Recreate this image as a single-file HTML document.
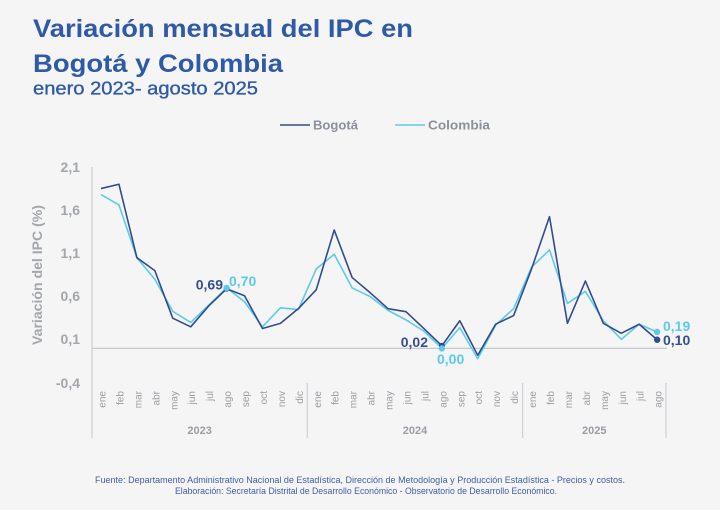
<!DOCTYPE html>
<html>
<head>
<meta charset="utf-8">
<style>
  html,body{margin:0;padding:0;background:#f5f5f6;}
  svg{display:block;}
  text{font-family:"Liberation Sans",Arial,sans-serif;}
</style>
</head>
<body>
<svg width="720" height="510" viewBox="0 0 720 510" xmlns="http://www.w3.org/2000/svg">
  <rect x="0" y="0" width="720" height="510" fill="#f5f5f6"/>

  <!-- Title -->
  <text x="33" y="37" font-size="25" font-weight="bold" fill="#2e5aa6" textLength="380" lengthAdjust="spacingAndGlyphs">Variación mensual del IPC en</text>
  <text x="33" y="72" font-size="25" font-weight="bold" fill="#2e5aa6" textLength="250" lengthAdjust="spacingAndGlyphs">Bogotá y Colombia</text>
  <text x="33" y="94.5" font-size="18" fill="#2e5aa6" stroke="#2e5aa6" stroke-width="0.35" textLength="225" lengthAdjust="spacingAndGlyphs">enero 2023- agosto 2025</text>

  <!-- Legend -->
  <line x1="280" y1="125" x2="310" y2="125" stroke="#324c8e" stroke-width="1.6"/>
  <text x="313" y="129.5" font-size="13" font-weight="bold" fill="#8c9099" textLength="45" lengthAdjust="spacingAndGlyphs">Bogotá</text>
  <line x1="395" y1="125" x2="425" y2="125" stroke="#5ccbea" stroke-width="1.6"/>
  <text x="428" y="129.5" font-size="13" font-weight="bold" fill="#8c9099" textLength="62" lengthAdjust="spacingAndGlyphs">Colombia</text>

  <!-- Y axis title -->
  <text transform="translate(42,275) rotate(-90)" text-anchor="middle" font-size="14" font-weight="bold" fill="#a3a6ab" textLength="140" lengthAdjust="spacingAndGlyphs">Variación del IPC (%)</text>

  <!-- Y tick labels -->
  <g font-size="14" font-weight="bold" fill="#a3a6ab" text-anchor="end">
    <text x="80" y="172">2,1</text>
    <text x="80" y="215">1,6</text>
    <text x="80" y="258">1,1</text>
    <text x="80" y="301">0,6</text>
    <text x="80" y="344">0,1</text>
    <text x="80" y="388">-0,4</text>
  </g>

  <!-- Axes -->
  <line x1="92" y1="167" x2="92" y2="438" stroke="#cfcfd2" stroke-width="1.2"/>
  <line x1="92" y1="348.4" x2="667" y2="348.4" stroke="#c8c8cb" stroke-width="1.2"/>
  <line x1="307.3" y1="383" x2="307.3" y2="438" stroke="#cfcfd2" stroke-width="1.2"/>
  <line x1="522.6" y1="383" x2="522.6" y2="438" stroke="#cfcfd2" stroke-width="1.2"/>
  <line x1="666" y1="383" x2="666" y2="438" stroke="#cfcfd2" stroke-width="1.2"/>

  <!-- Month labels -->
  <g font-size="10" fill="#9a9da3" text-anchor="end">
    <text transform="translate(105.5,391) rotate(-90)">ene</text>
    <text transform="translate(123.4,391) rotate(-90)">feb</text>
    <text transform="translate(141.4,391) rotate(-90)">mar</text>
    <text transform="translate(159.3,391) rotate(-90)">abr</text>
    <text transform="translate(177.3,391) rotate(-90)">may</text>
    <text transform="translate(195.2,391) rotate(-90)">jun</text>
    <text transform="translate(213.1,391) rotate(-90)">jul</text>
    <text transform="translate(231.1,391) rotate(-90)">ago</text>
    <text transform="translate(249.0,391) rotate(-90)">sep</text>
    <text transform="translate(267.0,391) rotate(-90)">oct</text>
    <text transform="translate(284.9,391) rotate(-90)">nov</text>
    <text transform="translate(302.8,391) rotate(-90)">dic</text>
    <text transform="translate(320.8,391) rotate(-90)">ene</text>
    <text transform="translate(338.7,391) rotate(-90)">feb</text>
    <text transform="translate(356.7,391) rotate(-90)">mar</text>
    <text transform="translate(374.6,391) rotate(-90)">abr</text>
    <text transform="translate(392.5,391) rotate(-90)">may</text>
    <text transform="translate(410.5,391) rotate(-90)">jun</text>
    <text transform="translate(428.4,391) rotate(-90)">jul</text>
    <text transform="translate(446.4,391) rotate(-90)">ago</text>
    <text transform="translate(464.3,391) rotate(-90)">sep</text>
    <text transform="translate(482.2,391) rotate(-90)">oct</text>
    <text transform="translate(500.2,391) rotate(-90)">nov</text>
    <text transform="translate(518.1,391) rotate(-90)">dic</text>
    <text transform="translate(536.1,391) rotate(-90)">ene</text>
    <text transform="translate(554.0,391) rotate(-90)">feb</text>
    <text transform="translate(571.9,391) rotate(-90)">mar</text>
    <text transform="translate(589.9,391) rotate(-90)">abr</text>
    <text transform="translate(607.8,391) rotate(-90)">may</text>
    <text transform="translate(625.8,391) rotate(-90)">jun</text>
    <text transform="translate(643.7,391) rotate(-90)">jul</text>
    <text transform="translate(661.6,391) rotate(-90)">ago</text>
  </g>

  <!-- Year labels -->
  <g font-size="11" font-weight="bold" fill="#9a9da3" text-anchor="middle">
    <text x="199.6" y="434">2023</text>
    <text x="415" y="434">2024</text>
    <text x="594.3" y="434">2025</text>
  </g>

  <!-- Colombia series -->
  <polyline fill="none" stroke="#5ccbea" stroke-width="1.6" stroke-linejoin="round"
    points="101.0,194.61 118.94,204.98 136.88,257.68 154.82,279.28 172.76,311.25 190.7,322.48 208.64,305.2 226.58,287.92 244.52,301.74 262.46,326.8 280.4,307.79 298.34,309.52 316.28,268.91 334.22,254.22 352.16,287.92 370.1,296.56 388.04,310.38 405.98,319.89 423.92,331.12 441.86,348.4 459.8,327.66 477.74,358.77 495.68,325.07 513.62,308.66 531.56,267.18 549.5,249.9 567.44,303.47 585.38,291.38 603.32,320.75 621.26,339.33 639.2,324.21 657.14,331.98"/>

  <!-- Bogotá series -->
  <polyline fill="none" stroke="#324c8e" stroke-width="1.6" stroke-linejoin="round"
    points="101.0,188.56 118.94,184.24 136.88,257.68 154.82,270.64 172.76,318.16 190.7,326.8 208.64,306.06 226.58,288.78 244.52,295.7 262.46,328.53 280.4,323.34 298.34,308.66 316.28,289.65 334.22,230.03 352.16,277.55 370.1,292.67 388.04,308.66 405.98,311.68 423.92,328.53 441.86,345.81 459.8,320.75 477.74,355.31 495.68,324.21 513.62,315.57 531.56,268.91 549.5,216.64 567.44,323.34 585.38,281.01 603.32,323.34 621.26,333.28 639.2,324.21 657.14,339.76"/>

  <!-- Markers -->
  <circle cx="226.58" cy="288.78" r="3" fill="#324c8e"/>
  <circle cx="226.58" cy="287.92" r="3.2" fill="#5ccbea"/>
  <circle cx="441.86" cy="345.81" r="3" fill="#324c8e"/>
  <circle cx="441.86" cy="348.4" r="3.2" fill="#5ccbea"/>
  <circle cx="657.14" cy="331.98" r="3.2" fill="#5ccbea"/>
  <circle cx="657.14" cy="339.76" r="3.2" fill="#324c8e"/>

  <!-- Data labels -->
  <g font-size="14" font-weight="bold">
    <text x="223" y="289.5" text-anchor="end" fill="#36508f">0,69</text>
    <text x="229" y="286" fill="#5ccbea">0,70</text>
    <text x="428" y="347" text-anchor="end" fill="#36508f">0,02</text>
    <text x="437" y="364" fill="#5ccbea">0,00</text>
    <text x="663" y="331" fill="#5ccbea">0,19</text>
    <text x="663" y="345" fill="#36508f">0,10</text>
  </g>

  <!-- Footer -->
  <text x="360" y="483" text-anchor="middle" font-size="9" fill="#3f5ea6" textLength="530" lengthAdjust="spacingAndGlyphs">Fuente: Departamento Administrativo Nacional de Estadística, Dirección de Metodología y Producción Estadística - Precios y costos.</text>
  <text x="366" y="494" text-anchor="middle" font-size="9" fill="#3f5ea6" textLength="382" lengthAdjust="spacingAndGlyphs">Elaboración: Secretaría Distrital de Desarrollo Económico - Observatorio de Desarrollo Económico.</text>
</svg>
</body>
</html>
